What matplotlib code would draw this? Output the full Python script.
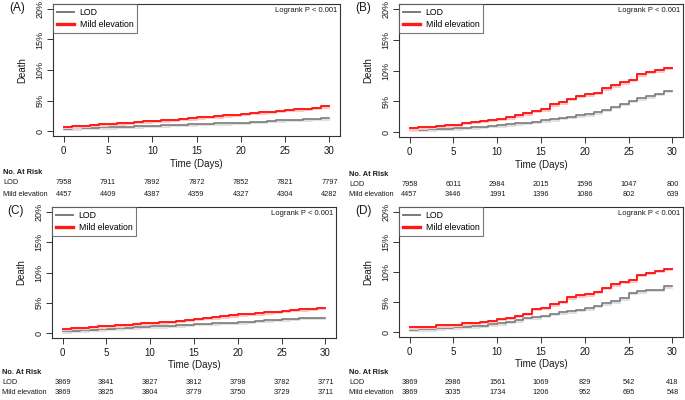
import numpy as np
import matplotlib
matplotlib.use("Agg")
import matplotlib.pyplot as plt
import matplotlib.patheffects as pe
from matplotlib.transforms import blended_transform_factory

plt.rcParams["font.family"] = ["Liberation Sans", "DejaVu Sans"]

W, H = 685, 400

# cumulative death (%) level held during each day [d, d+1), d = 0..29
days = np.arange(30)
time_ticks = [0, 5, 10, 15, 20, 25, 30]

lod_a = [0.40, 0.45, 0.50, 0.55, 0.60, 0.65, 0.70, 0.75, 0.80, 0.85,
         0.90, 0.95, 1.00, 1.05, 1.10, 1.15, 1.20, 1.25, 1.30, 1.35,
         1.40, 1.50, 1.55, 1.65, 1.75, 1.85, 1.90, 1.95, 2.00, 2.10]
mild_a = [0.70, 0.80, 0.90, 1.05, 1.10, 1.20, 1.30, 1.40, 1.50, 1.60,
          1.70, 1.80, 1.90, 2.00, 2.10, 2.25, 2.35, 2.45, 2.60, 2.70,
          2.85, 2.95, 3.05, 3.20, 3.30, 3.45, 3.55, 3.70, 3.85, 4.05]

lod_b = [0.35, 0.40, 0.45, 0.50, 0.55, 0.60, 0.70, 0.75, 0.85, 1.00,
         1.10, 1.25, 1.40, 1.55, 1.70, 1.90, 2.10, 2.30, 2.50, 2.70,
         2.90, 3.20, 3.60, 4.10, 4.60, 5.10, 5.50, 5.80, 6.20, 6.75]
mild_b = [0.60, 0.75, 0.85, 1.05, 1.10, 1.20, 1.55, 1.70, 1.80, 2.00,
          2.15, 2.40, 2.70, 3.05, 3.45, 3.70, 4.50, 4.85, 5.45, 5.85,
          6.15, 6.40, 7.10, 7.60, 8.10, 8.50, 9.40, 9.80, 10.05, 10.40]

lod_c = [0.30, 0.40, 0.50, 0.60, 0.65, 0.75, 0.80, 0.85, 0.95, 1.00,
         1.10, 1.15, 1.20, 1.30, 1.40, 1.50, 1.55, 1.65, 1.70, 1.75,
         1.80, 1.90, 2.00, 2.10, 2.20, 2.30, 2.40, 2.50, 2.50, 2.55]
mild_c = [0.70, 0.85, 0.90, 1.00, 1.10, 1.20, 1.30, 1.40, 1.50, 1.60,
          1.70, 1.80, 1.90, 2.05, 2.20, 2.35, 2.50, 2.60, 2.80, 2.95,
          3.10, 3.20, 3.30, 3.45, 3.55, 3.65, 3.80, 3.95, 4.05, 4.15]

lod_d = [0.35, 0.45, 0.50, 0.65, 0.70, 0.80, 0.85, 0.95, 1.10, 1.30,
         1.50, 1.70, 2.00, 2.40, 2.50, 2.70, 3.10, 3.30, 3.50, 3.75,
         4.00, 4.40, 4.80, 5.15, 5.60, 6.50, 6.80, 7.00, 7.00, 7.60]
mild_d = [0.80, 0.90, 0.90, 1.15, 1.15, 1.25, 1.50, 1.60, 1.75, 1.90,
          2.20, 2.40, 2.70, 3.10, 3.90, 4.05, 4.65, 5.05, 5.80, 6.10,
          6.30, 6.70, 7.35, 7.95, 8.35, 8.60, 9.55, 9.90, 10.20, 10.50]

# numbers at risk at 0, 5, ..., 30 days
risk_lod_a = [7958, 7911, 7892, 7872, 7852, 7821, 7797]
risk_mild_a = [4457, 4409, 4387, 4359, 4327, 4304, 4282]
risk_lod_b = [7958, 6011, 2984, 2015, 1596, 1047, 800]
risk_mild_b = [4457, 3446, 1991, 1396, 1086, 802, 639]
risk_lod_c = [3869, 3841, 3827, 3812, 3798, 3782, 3771]
risk_mild_c = [3869, 3825, 3804, 3779, 3750, 3729, 3711]
risk_lod_d = [3869, 2986, 1561, 1069, 829, 542, 418]
risk_mild_d = [3869, 3035, 1734, 1206, 952, 695, 548]

_RED = "#FF1A1A"
_GRAY = "#7A7A7A"
_TXT = "#1A1A1A"
_EDGE = "#333333"


def _fy(py):
    return 1 - py / H


def draw_panel(fig, box, label, lod, mild, risk_lod, risk_mild, rows):
    """box = (left, right, top, bottom) in pixels; rows = y px of table lines."""
    l, r, t, b = box
    ax = fig.add_axes([l / W, _fy(b), (r - l) / W, (b - t) / H])
    x = np.append(days, 30)
    for vals, col, lw, shade in ((lod, _GRAY, 1.2, "#DADADA"),
                                 (mild, _RED, 1.4, "#FFC4C4")):
        y = np.append(vals, vals[-1])
        ax.step(x, y, where="post", color=col, lw=lw,
                path_effects=[pe.SimpleLineShadow(offset=(0, -1.0),
                                                  shadow_color=shade, alpha=1),
                              pe.Normal()])
    ax.set_xlim(-1.2, 31.2)
    ax.set_ylim(-0.8, 20.8)
    ax.set_xticks(time_ticks)
    ax.set_xticklabels([str(v) for v in time_ticks], fontsize=7, color=_TXT)
    ax.set_yticks([0, 5, 10, 15, 20])
    ax.set_yticklabels(["0", "5%", "10%", "15%", "20%"], rotation=90,
                       va="center", fontsize=6.5, color=_TXT)
    ax.tick_params(axis="x", length=4, width=0.7, pad=3.5, color=_EDGE)
    ax.tick_params(axis="y", length=4, width=0.7, pad=2, color=_EDGE)
    for s in ax.spines.values():
        s.set_color(_EDGE)
        s.set_linewidth(0.8)
    ax.set_ylabel("Death", fontsize=7, color=_TXT, labelpad=6)

    leg = ax.legend(["LOD", "Mild elevation"], loc="upper left",
                    fontsize=6.3, frameon=True, fancybox=False,
                    borderaxespad=0, handlelength=2.0, handletextpad=0.6,
                    borderpad=0.45, labelspacing=0.3)
    leg.get_frame().set_edgecolor("#555555")
    leg.get_frame().set_linewidth(0.8)
    leg.legend_handles[0].set_linewidth(1.4)
    leg.legend_handles[1].set_linewidth(2.4)
    for h in leg.legend_handles:
        h.set_path_effects([])

    ax.text(0.99, 0.975, "Logrank P < 0.001", transform=ax.transAxes,
            ha="right", va="top", fontsize=5.5, color=_TXT)

    fig.text((l - 36) / W, _fy(t + 4), label, fontsize=8.5, color=_TXT,
             ha="center", va="center")
    fig.text((l + r) / 2 / W, _fy(rows[0]), "Time (Days)", fontsize=7,
             ha="center", va="center", color=_TXT)

    x0 = (l - 50) / W
    fig.text(x0, _fy(rows[1]), "No. At Risk", fontsize=5.3, weight="bold",
             ha="left", va="center", color=_TXT)
    fig.text(x0, _fy(rows[2]), "LOD", fontsize=5.3, ha="left",
             va="center", color=_TXT)
    fig.text(x0, _fy(rows[3]), "Mild elevation", fontsize=5.3, ha="left",
             va="center", color=_TXT)
    tr = blended_transform_factory(ax.transData, fig.transFigure)
    for tx, n1, n2 in zip(time_ticks, risk_lod, risk_mild):
        fig.text(tx, _fy(rows[2]), str(n1), transform=tr, fontsize=5.3,
                 ha="center", va="center", color=_TXT)
        fig.text(tx, _fy(rows[3]), str(n2), transform=tr, fontsize=5.3,
                 ha="center", va="center", color=_TXT)
    return ax


fig = plt.figure(figsize=(W / 100, H / 100), dpi=100)
fig.patch.set_facecolor("white")

draw_panel(fig, (53, 340, 4, 136), "(A)", lod_a, mild_a,
           risk_lod_a, risk_mild_a, (164, 173, 183, 194))
draw_panel(fig, (399, 683, 4, 137), "(B)", lod_b, mild_b,
           risk_lod_b, risk_mild_b, (165, 174, 184, 194))
draw_panel(fig, (52, 336, 207, 338), "(C)", lod_c, mild_c,
           risk_lod_c, risk_mild_c, (365, 373, 383, 392))
draw_panel(fig, (399, 683, 207, 337), "(D)", lod_d, mild_d,
           risk_lod_d, risk_mild_d, (364, 373, 383, 392))

fig.savefig("out.png", dpi=100, facecolor="white")
